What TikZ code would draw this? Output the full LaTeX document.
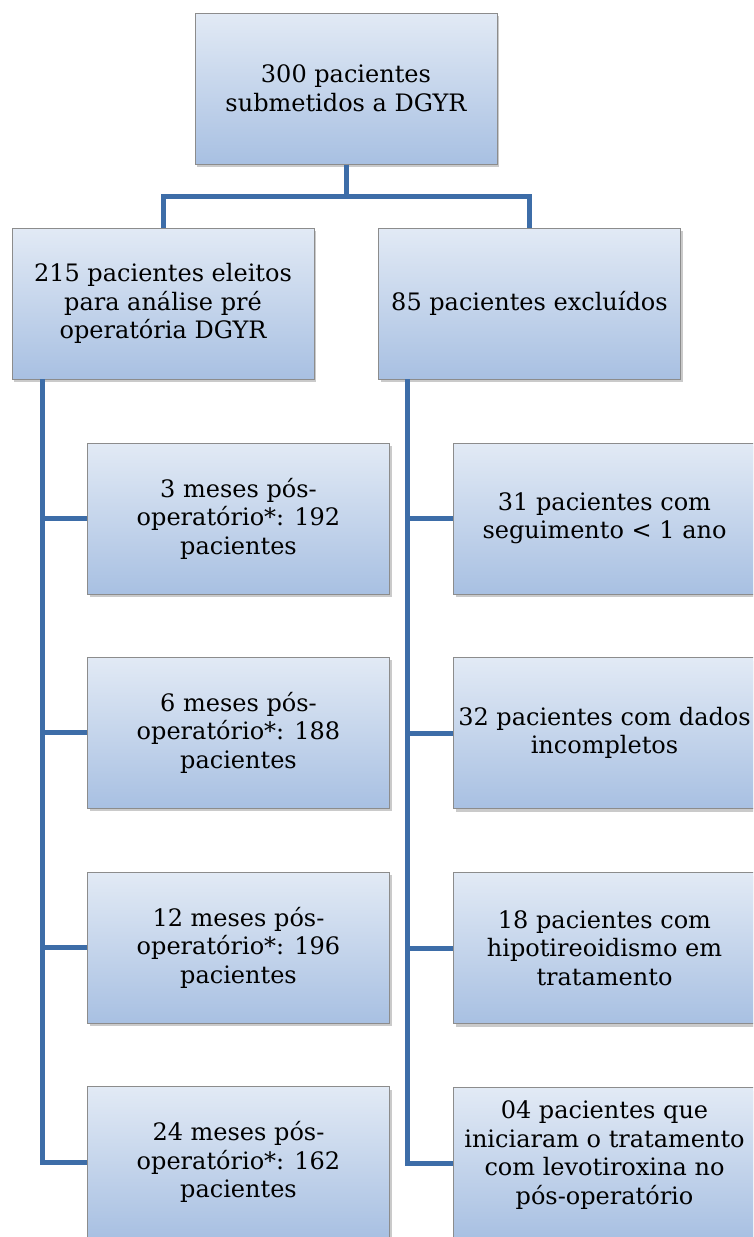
\documentclass[tikz,border=0pt]{standalone}
\usepackage{fontspec}
\setmainfont{DejaVu Serif}
\usetikzlibrary{shadows}
\definecolor{boxtop}{HTML}{E2EAF5}
\definecolor{boxbot}{HTML}{A8C0E2}
\definecolor{boxline}{HTML}{8C8C8C}
\definecolor{linkc}{HTML}{3D6DA8}
\tikzset{
  x=1pt, y=-1pt,
  boxnode/.style={draw=boxline, line width=1pt, top color=boxtop, bottom color=boxbot,
    minimum width=302pt, minimum height=151pt, inner sep=0pt, align=center,
    font=\fontsize{24}{28.5}\selectfont,
    drop shadow={shadow xshift=2pt, shadow yshift=-3pt, opacity=0.35, fill=black!60}},
  link/.style={draw=linkc, line width=5pt}
}
\begin{document}
\begin{tikzpicture}
\useasboundingbox (0,0) rectangle (753,1237);
\begin{scope}
\clip (0,0) rectangle (753,1237);
\node[boxnode] (top) at (346,88.5) {300 pacientes\\submetidos a DGYR};
\node[boxnode] (L) at (163,303.5) {215 pacientes eleitos\\para análise pré\\operatória DGYR};
\node[boxnode] (R) at (529.5,303.5) {85 pacientes excluídos};
\node[boxnode] (a1) at (238.5,518.5) {3 meses pós-\\operatório*: 192\\pacientes};
\node[boxnode] (a2) at (238.5,732.5) {6 meses pós-\\operatório*: 188\\pacientes};
\node[boxnode] (a3) at (238.5,947.5) {12 meses pós-\\operatório*: 196\\pacientes};
\node[boxnode] (a4) at (238.5,1162) {24 meses pós-\\operatório*: 162\\pacientes};
\node[boxnode] (b1) at (604.5,518.5) {31 pacientes com\\seguimento < 1 ano};
\node[boxnode] (b2) at (604.5,733) {32 pacientes com dados\\incompletos};
\node[boxnode] (b3) at (604.5,948) {18 pacientes com\\hipotireoidismo em\\tratamento};
\node[boxnode] (b4) at (604.5,1163) {\raisebox{7pt}[\height][\depth]{\begin{tabular}{@{}c@{}}04 pacientes que\\iniciaram o tratamento\\com levotiroxina no\\pós-operatório\end{tabular}}};
\coordinate (lv) at (42,379);
\coordinate (rv) at (407,379);
\draw[link] (top.south) -- ++(0,32) -| (L.north);
\draw[link] (top.south) -- ++(0,32) -| (R.north);
\draw[link] (lv) |- (a4.west);
\draw[link] (a1.west) -- (a1.west -| lv);
\draw[link] (a2.west) -- (a2.west -| lv);
\draw[link] (a3.west) -- (a3.west -| lv);
\draw[link] (rv) |- (b4.west);
\draw[link] (b1.west) -- (b1.west -| rv);
\draw[link] (b2.west) -- (b2.west -| rv);
\draw[link] (b3.west) -- (b3.west -| rv);
\end{scope}
\end{tikzpicture}
\end{document}
